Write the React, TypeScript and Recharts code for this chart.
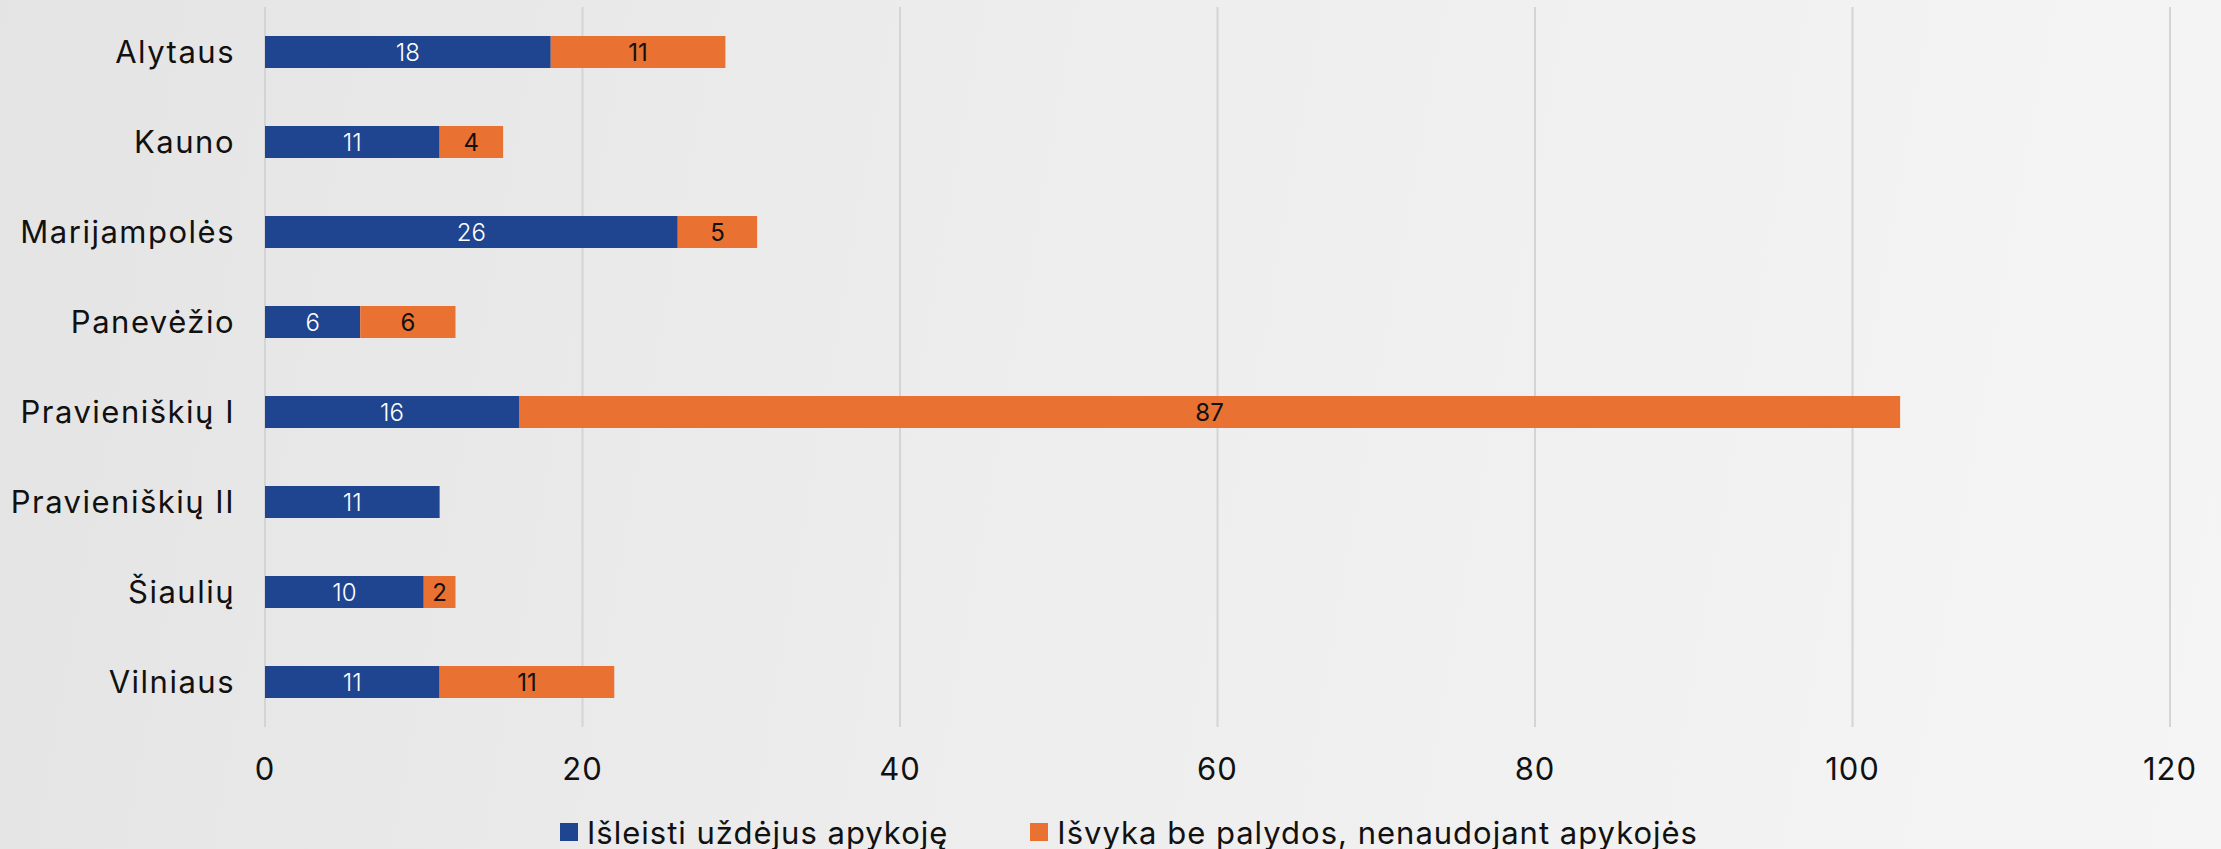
import { BarChart, Bar, XAxis, YAxis, CartesianGrid, Legend, LabelList } from 'recharts';

// Kategorijos ir reikšmės
const categories = ['Alytaus', 'Kauno', 'Marijampolės', 'Panevėžio', 'Pravieniškių I', 'Pravieniškių II', 'Šiaulių', 'Vilniaus'];
const released = [18, 11, 26, 6, 16, 11, 10, 11];
const unescorted = [11, 4, 5, 6, 87, null, 2, 11];
const xTicks = [0, 20, 40, 60, 80, 100, 120];

const seriesNames = ['Išleisti uždėjus apykoję', 'Išvyka be palydos, nenaudojant apykojės'];
const BLUE = '#1F4590';
const ORANGE = '#E97132';
const FONT = 'Inter, "Open Sans", sans-serif';

const data = categories.map((name, i) => ({
  name,
  released: released[i],
  unescorted: unescorted[i],
}));

const LegendContent = () => (
  <div
    style={{
      display: 'flex',
      justifyContent: 'flex-start',
      gap: 82,
      paddingLeft: 560,
      paddingTop: 27,
      fontFamily: FONT,
      fontSize: 31,
      letterSpacing: 1,
      color: '#111',
    }}
  >
    {[BLUE, ORANGE].map((c, i) => (
      <div key={i} style={{ display: 'flex', alignItems: 'center', height: 36 }}>
        <span style={{ width: 18, height: 18, background: c, display: 'inline-block', marginRight: 9 }} />
        <span>{seriesNames[i]}</span>
      </div>
    ))}
  </div>
);

const App = () => {
  return (
    <div
      style={{
        width: 2221,
        height: 849,
        background: 'linear-gradient(100deg, #e4e4e4 0%, #ededed 45%, #f5f5f5 100%)',
        fontFamily: FONT,
      }}
    >
      <style>{'body{margin:0}'}</style>
      <BarChart
        width={2221}
        height={849}
        data={data}
        layout="vertical"
        barSize={32}
        margin={{ top: 7, right: 51, left: 0, bottom: 0 }}
      >
        <CartesianGrid horizontal={false} stroke="#d4d4d4" strokeWidth={2} />
        <XAxis
          type="number"
          domain={[0, 120]}
          ticks={xTicks}
          axisLine={false}
          tickLine={false}
          tickSize={0}
          tickMargin={31}
          height={60}
          tick={{ fill: '#111', fontSize: 31, fontFamily: FONT, letterSpacing: 1 }}
        />
        <YAxis
          type="category"
          dataKey="name"
          width={265}
          axisLine={false}
          tickLine={false}
          tickSize={0}
          tickMargin={30}
          tick={{ fill: '#111', fontSize: 31, fontFamily: FONT, letterSpacing: 1.5 }}
        />
        <Legend
          verticalAlign="bottom"
          height={62}
          content={<LegendContent />}
          wrapperStyle={{ bottom: 0, left: 0, width: 2221, height: 62 }}
        />
        <Bar dataKey="released" stackId="a" fill={BLUE} name={seriesNames[0]} isAnimationActive={false}>
          <LabelList dataKey="released" position="center" fill="#fff" fontSize={24} fontWeight={300} fontFamily={FONT} />
        </Bar>
        <Bar dataKey="unescorted" stackId="a" fill={ORANGE} name={seriesNames[1]} isAnimationActive={false}>
          <LabelList dataKey="unescorted" position="center" fill="#111" fontSize={24} fontWeight={400} fontFamily={FONT} />
        </Bar>
      </BarChart>
    </div>
  );
};

export default App;
